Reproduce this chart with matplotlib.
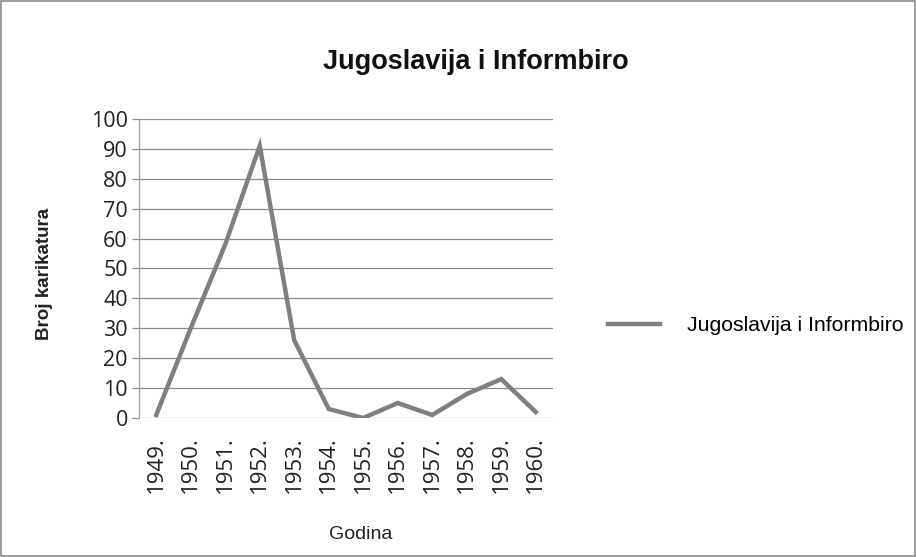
import matplotlib.pyplot as plt
from matplotlib.patches import Rectangle

years = ['1949.', '1950.', '1951.', '1952.', '1953.', '1954.',
         '1955.', '1956.', '1957.', '1958.', '1959.', '1960.']
counts = [1, 30, 58, 91, 26, 3, 0, 5, 1, 8, 13, 2]

fig = plt.figure(figsize=(9.16, 5.57), dpi=100)
ax = fig.add_axes([0.1517, 0.2496, 0.452, 0.5368])

x = range(len(years))
line, = ax.plot(x, counts, color='#7f7f7f', linewidth=3.2, solid_joinstyle='miter',
                label='Jugoslavija i Informbiro')

ax.set_xlim(-0.5, len(years) - 0.5)
ax.set_ylim(0, 100)
ax.set_yticks(range(0, 101, 10))
ax.yaxis.grid(True, color='#8c8c8c', linewidth=0.9)
ax.set_axisbelow(True)
for s in ['top', 'right', 'bottom']:
    ax.spines[s].set_visible(False)
ax.spines['left'].set_color('#a0a0a0')
ax.spines['left'].set_linewidth(0.9)
ax.tick_params(axis='y', length=5, color='#8c8c8c', width=0.9, labelsize=15.5,
               labelcolor='#222222', pad=3)
ax.set_xticks(list(x))
ax.set_xticklabels(years, rotation=90, fontsize=16, color='#222222')
ax.tick_params(axis='x', length=0, pad=13)
for lbl in ax.get_xticklabels() + ax.get_yticklabels():
    lbl.set_family('Open Sans')

# axis titles placed like the reference (not centred on the axes)
fig.text(0.049, 0.508, 'Broj karikatura', rotation=90, ha='center', va='center',
         fontsize=13.5, fontweight='bold', family='Liberation Sans', color='#222222')
fig.text(0.394, 0.041, 'Godina', ha='center', va='center',
         fontsize=14, family='Liberation Sans', color='#222222')

fig.text(0.519, 0.888, 'Jugoslavija i Informbiro', ha='center', va='center',
         fontsize=19.5, fontweight='bold', family='Liberation Sans', color='#111111')

fig.legend(handles=[line], loc='center left', bbox_to_anchor=(0.664, 0.415),
           frameon=False, borderpad=0, borderaxespad=0, handlelength=2.45,
           handletextpad=1.27, prop={'family': 'Liberation Sans', 'size': 15.3})

fig.patches.append(Rectangle((0.001, 0.001), 0.998, 0.998, transform=fig.transFigure,
                             fill=False, edgecolor='#8a8a8a', linewidth=1.2))

fig.savefig('out.png', dpi=100)
